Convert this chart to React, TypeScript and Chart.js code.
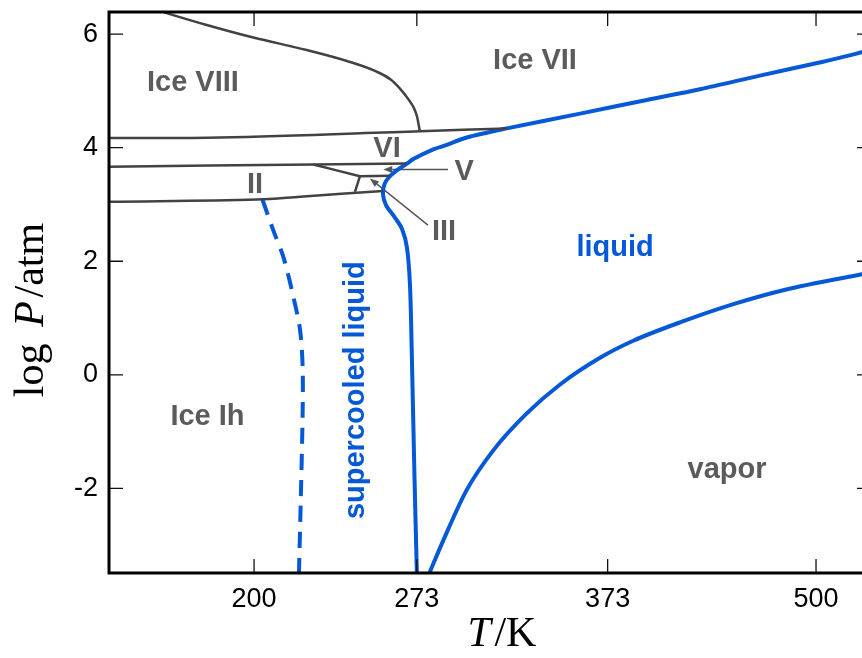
import React, { useEffect, useRef } from 'react';
import { Chart, LinearScale, registerables } from 'chart.js';

// Temperature axis: positions are linear in sqrt(T)
class SqrtScale extends LinearScale {
  static id = 'sqrt';
  static defaults = {};
  getPixelForValue(value: number) {
    const a = Math.sqrt(this.min);
    const b = Math.sqrt(this.max);
    return this.getPixelForDecimal((Math.sqrt(value) - a) / (b - a));
  }
  getValueForPixel(pixel: number) {
    const a = Math.sqrt(this.min);
    const b = Math.sqrt(this.max);
    const s = a + this.getDecimalForPixel(pixel) * (b - a);
    return s * s;
  }
}

Chart.register(...registerables, SqrtScale);

// Axis ranges and ticks
const tempMin = 144.5;
const tempMax = 536.6;
const logPMin = -3.49;
const logPMax = 6.39;
const tempTicks = [200, 273, 373, 500];
const logPTicks = [-2, 0, 2, 4, 6];

// Phase boundaries as [T / K, log P / atm]
const iceVIIIToVII = [
  [162.0, 6.42], [180.2, 6.17], [199.7, 5.94], [222.4, 5.72], [241.7, 5.51],
  [253.9, 5.34], [260.5, 5.2], [264.9, 5.04], [268.8, 4.86], [271.3, 4.72],
  [273.1, 4.55], [273.9, 4.4], [274.5, 4.28],
];
const iceVIIBase = [[144.0, 4.17], [186.2, 4.18], [274.5, 4.29], [318.2, 4.34]];
const iceVIToV = [[144.0, 3.665], [225.3, 3.704], [268.0, 3.72]];
const iceVToII = [[225.3, 3.704], [246.2, 3.498]];
const iceVToIII = [[246.2, 3.498], [260.2, 3.507]];
const iceIIToIII = [[246.2, 3.498], [243.9, 3.222]];
const iceIIToIh = [[144.0, 3.046], [201.2, 3.088], [219.5, 3.137], [256.9, 3.239]];

const meltingCurve = [
  [273.1, -3.61], [271.9, -1.85], [270.5, 0.49], [269.7, 1.58], [268.3, 2.23],
  [265.9, 2.57], [262.1, 2.79], [258.3, 2.99], [256.9, 3.18], [257.6, 3.36],
  [259.7, 3.48], [263.4, 3.6], [268.3, 3.72], [271.3, 3.8], [281.0, 3.97],
  [287.6, 4.05], [297.6, 4.18], [318.2, 4.34], [357.6, 4.6], [395.4, 4.84],
  [427.0, 5.03], [464.0, 5.27], [503.9, 5.51], [536.6, 5.72],
];
const supercooledCurve = [
  [203.5, 3.085], [208.0, 2.548], [212.3, 2.077], [216.6, 1.373], [219.5, 0.787],
  [220.6, 0.141], [220.6, -0.67], [219.8, -2.2], [218.9, -3.65],
];
const vaporCurve = [
  [277.7, -3.61], [286.0, -2.91], [297.6, -2.03], [311.2, -1.33], [328.7, -0.68],
  [346.6, -0.17], [368.7, 0.3], [387.6, 0.6], [417.0, 0.945], [447.4, 1.245],
  [478.8, 1.49], [530.5, 1.77], [536.6, 1.8],
];

// Region labels: text, T, log P (baseline), colour key
const regionLabels: [string, number, number, string][] = [
  ['Ice VIII', 175.5, 5.0, 'gray'],
  ['Ice VII', 333.1, 5.39, 'gray'],
  ['VI', 258.8, 3.83, 'gray'],
  ['V', 296.3, 3.43, 'gray'],
  ['II', 200.4, 3.2, 'gray'],
  ['III', 286.3, 2.37, 'gray'],
  ['liquid', 377.2, 2.09, 'blue'],
  ['Ice Ih', 181.2, -0.89, 'gray'],
  ['vapor', 443.5, -1.81, 'gray'],
];
const supercooledLabel = { text: 'supercooled liquid', t: 244.4, logP: -0.27 };

// Pointer arrows: [from T, from log P, to T, to log P]
const pointers = [
  [288.3, 3.616, 257.0, 3.616],
  [278.4, 2.636, 250.8, 3.458],
];

const GRAY_LINE = '#424242';
const GRAY_TEXT = '#5b5b5b';
const BLUE = '#0558d6';
const LABEL_FONT = 'bold 29px "Liberation Sans", Arial, sans-serif';
const SERIF = '"Liberation Serif", "Times New Roman", serif';

const toXY = (pts: number[][]) => pts.map(([x, y]) => ({ x, y }));

const grayLine = (pts: number[][], smooth = false) => ({
  data: toXY(pts),
  showLine: true,
  borderColor: GRAY_LINE,
  borderWidth: 2.5,
  pointRadius: 0,
  tension: smooth ? 0.4 : 0.35,
  cubicInterpolationMode: smooth ? 'monotone' : 'default',
  clip: 0,
});

const blueLine = (pts: number[][], opts: { dash?: number[]; monotone?: boolean } = {}) => ({
  data: toXY(pts),
  showLine: true,
  borderColor: BLUE,
  borderWidth: 4,
  borderDash: opts.dash || [],
  pointRadius: 0,
  tension: 0.3,
  cubicInterpolationMode: opts.monotone ? 'monotone' : 'default',
  clip: 0,
});

function drawMixed(ctx: CanvasRenderingContext2D, parts: [string, string][], cx: number, baseline: number) {
  const widths = parts.map(([t, f]) => {
    ctx.font = f;
    return ctx.measureText(t).width;
  });
  const total = widths.reduce((a, b) => a + b, 0);
  let x = cx - total / 2;
  ctx.textAlign = 'left';
  ctx.textBaseline = 'alphabetic';
  parts.forEach(([t, f], i) => {
    ctx.font = f;
    ctx.fillText(t, x, baseline);
    x += widths[i];
  });
}

const decorPlugin = {
  id: 'phaseDecor',
  beforeDraw(chart: any) {
    const { ctx, width, height } = chart;
    ctx.save();
    ctx.fillStyle = '#fff';
    ctx.fillRect(0, 0, width, height);
    ctx.restore();
  },
  beforeDatasetsDraw(chart: any) {
    const { ctx } = chart;
    const xs = chart.scales.x;
    const ys = chart.scales.y;
    ctx.save();
    ctx.strokeStyle = '#555';
    ctx.fillStyle = '#555';
    ctx.lineWidth = 1.4;
    pointers.forEach(([t0, p0, t1, p1]) => {
      const x0 = xs.getPixelForValue(t0);
      const y0 = ys.getPixelForValue(p0);
      const x1 = xs.getPixelForValue(t1);
      const y1 = ys.getPixelForValue(p1);
      const ang = Math.atan2(y1 - y0, x1 - x0);
      const head = 9;
      const half = 3.5;
      const bx = x1 - head * Math.cos(ang);
      const by = y1 - head * Math.sin(ang);
      ctx.beginPath();
      ctx.moveTo(x0, y0);
      ctx.lineTo(bx, by);
      ctx.stroke();
      ctx.beginPath();
      ctx.moveTo(x1, y1);
      ctx.lineTo(bx + half * Math.sin(ang), by - half * Math.cos(ang));
      ctx.lineTo(bx - half * Math.sin(ang), by + half * Math.cos(ang));
      ctx.closePath();
      ctx.fill();
    });
    ctx.restore();
  },
  afterDatasetsDraw(chart: any) {
    const { ctx, chartArea } = chart;
    const xs = chart.scales.x;
    const ys = chart.scales.y;
    ctx.save();
    ctx.font = LABEL_FONT;
    ctx.textAlign = 'center';
    ctx.textBaseline = 'alphabetic';
    regionLabels.forEach(([text, t, p, c]) => {
      ctx.fillStyle = c === 'blue' ? BLUE : GRAY_TEXT;
      ctx.fillText(text, xs.getPixelForValue(t), ys.getPixelForValue(p));
    });
    ctx.save();
    ctx.translate(xs.getPixelForValue(supercooledLabel.t), ys.getPixelForValue(supercooledLabel.logP));
    ctx.rotate(-Math.PI / 2);
    ctx.fillStyle = BLUE;
    ctx.textBaseline = 'middle';
    ctx.fillText(supercooledLabel.text, 0, 0);
    ctx.restore();

    // frame and inward ticks on all four sides
    const { left, right, top, bottom } = chartArea;
    ctx.strokeStyle = '#111';
    ctx.lineWidth = 1.3;
    const tl = 14;
    ctx.beginPath();
    tempTicks.forEach((t) => {
      const x = xs.getPixelForValue(t);
      ctx.moveTo(x, bottom);
      ctx.lineTo(x, bottom - tl);
      ctx.moveTo(x, top);
      ctx.lineTo(x, top + tl);
    });
    logPTicks.forEach((p) => {
      const y = ys.getPixelForValue(p);
      ctx.moveTo(left, y);
      ctx.lineTo(left + tl, y);
      ctx.moveTo(right, y);
      ctx.lineTo(right - tl, y);
    });
    ctx.stroke();
    ctx.strokeStyle = '#000';
    ctx.lineWidth = 3;
    ctx.strokeRect(left, top, right - left, bottom - top);
    ctx.restore();
  },
  afterDraw(chart: any) {
    const { ctx, chartArea } = chart;
    ctx.save();
    ctx.fillStyle = '#000';
    const reg = `42px ${SERIF}`;
    const ita = `italic 42px ${SERIF}`;
    drawMixed(ctx, [['T', ita], ['\u200a/K', reg]], (chartArea.left + chartArea.right) / 2 + 12, 646);
    ctx.translate(43, 310);
    ctx.rotate(-Math.PI / 2);
    drawMixed(ctx, [['log', reg], ['\u2009\u2009', reg], ['P', ita], ['\u200a/atm', reg]], 0, 0);
    ctx.restore();
  },
};

export default function App() {
  const ref = useRef<HTMLCanvasElement>(null);
  useEffect(() => {
    if (!ref.current) return;
    const chart = new Chart(ref.current, {
      type: 'scatter',
      data: {
        datasets: [
          grayLine(iceVIIIToVII, true),
          grayLine(iceVIIBase),
          grayLine(iceVIToV),
          grayLine(iceVToII),
          grayLine(iceVToIII),
          grayLine(iceIIToIII),
          grayLine(iceIIToIh),
          blueLine(supercooledCurve, { dash: [16, 10] }),
          blueLine(meltingCurve),
          blueLine(vaporCurve, { monotone: true }),
        ] as any,
      },
      options: {
        responsive: false,
        animation: false,
        events: [],
        layout: { padding: { left: 0, top: 12, right: 9, bottom: 0 } },
        plugins: { legend: { display: false }, tooltip: { enabled: false } },
        scales: {
          x: {
            type: 'sqrt' as any,
            position: 'bottom',
            min: tempMin,
            max: tempMax,
            grid: { display: false, drawTicks: false },
            border: { display: false },
            ticks: {
              color: '#000',
              padding: 10,
              maxRotation: 0,
              autoSkip: false,
              font: { family: '"Liberation Sans", Arial, sans-serif', size: 27 },
            },
            afterBuildTicks: (s: any) => {
              s.ticks = tempTicks.map((v) => ({ value: v }));
            },
            afterFit: (s: any) => {
              s.height = 85;
              s.paddingLeft = 0;
              s.paddingRight = 0;
            },
          },
          y: {
            type: 'linear',
            min: logPMin,
            max: logPMax,
            grid: { display: false, drawTicks: false },
            border: { display: false },
            ticks: {
              color: '#000',
              padding: 11,
              font: { family: '"Liberation Sans", Arial, sans-serif', size: 27 },
            },
            afterBuildTicks: (s: any) => {
              s.ticks = logPTicks.map((v) => ({ value: v }));
            },
            afterFit: (s: any) => {
              s.width = 109;
              s.paddingTop = 0;
              s.paddingBottom = 0;
            },
          },
        },
      } as any,
      plugins: [decorPlugin],
    });
    return () => chart.destroy();
  }, []);
  return (
    <div
      style={{
        position: 'absolute',
        left: 0,
        top: 0,
        width: 862,
        height: 658,
        overflow: 'hidden',
        background: '#fff',
      }}
    >
      <canvas ref={ref} width={880} height={658} style={{ display: 'block', width: 880, height: 658 }} />
    </div>
  );
}
